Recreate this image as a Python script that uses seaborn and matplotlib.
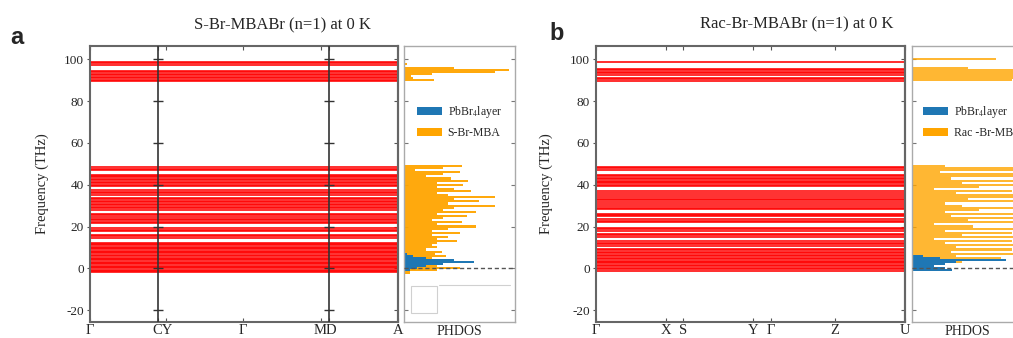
import numpy as np
import pandas as pd
import matplotlib
matplotlib.use("Agg")
import matplotlib.pyplot as plt
from matplotlib.patches import Patch, Rectangle
import seaborn as sns

# ---------------- data ----------------
# high-symmetry path (fractional path length) and labels
kpath_S = [0.0, 0.221, 0.247, 0.497, 0.750, 0.776, 1.0]
klabels_S = ["Γ", "C", "Y", "Γ", "M", "D", "A"]
kpath_R = [0.0, 0.225, 0.282, 0.508, 0.566, 0.773, 1.0]
klabels_R = ["Γ", "X", "S", "Y", "Γ", "Z", "U"]

# phonon band frequencies (THz), flat across the path
bands_S = [-2.0, -1.35, -0.7, -0.05, 0.6, 1.25, 1.9, 2.55, 3.2, 3.85, 4.5, 5.15,
           5.8, 6.45, 7.1, 7.75, 8.4, 9.05, 9.7, 10.35, 11.0, 11.65, 12.3,
           14.6, 15.3, 16.0, 17.8, 18.5, 19.2, 21.5, 22.2, 22.9, 23.5,
           24.6, 25.4, 26.1, 28.1, 28.8, 29.5, 30.2, 30.9, 31.6, 32.4, 33.1, 33.8,
           35.3, 36.0, 36.7, 37.3, 39.3, 40.0, 40.7, 41.4, 42.1, 42.8, 43.5, 44.1,
           44.7, 47.0, 47.7, 48.3,
           89.6, 90.2, 90.9, 91.6, 92.3, 93.0, 93.9, 94.5, 97.5, 98.2, 98.9]
bands_R = [-1.2, -0.5, 0.2, 0.9, 1.6, 2.3, 3.0, 3.7, 4.4, 5.1, 5.8, 6.5, 7.2,
           7.9, 8.6, 9.3, 10.6, 11.4, 12.2, 13.0, 15.2, 15.9, 16.6, 18.0, 18.7,
           19.5, 22.0, 22.7, 23.4, 24.8, 25.5, 26.1, 28.4, 29.1, 29.8, 30.8,
           31.9, 32.6, 33.3, 34.2, 35.3, 36.0, 36.8, 39.2, 39.9, 40.6, 41.3,
           42.0, 42.7, 43.4, 44.1, 44.8, 47.2, 47.9, 48.6,
           89.8, 90.5, 91.2, 92.6, 93.3, 94.0, 94.7, 95.3, 98.9]

# projected phonon DOS (arb. units) on a 1-THz frequency grid
dos_S_org_f = [-2, -1, 0, 1, 2, 3, 4, 5, 6, 7, 8, 9, 10, 11, 12, 13, 14, 15,
               16, 17, 18, 19, 20, 21, 22, 23, 24, 25, 26, 27, 28, 29, 30, 31,
               32, 33, 34, 35, 36, 37, 38, 39, 40, 41, 42, 43, 44, 45, 46, 47,
               48, 49, 90, 91, 92, 93, 94, 95, 96, 98]
dos_S_org_v = [0.05, 0.30, 0.50, 0.30, 0.25, 0.20, 0.30, 0.25, 0.38, 0.28,
               0.34, 0.20, 0.30, 0.25, 0.30, 0.48, 0.30, 0.40, 0.25, 0.50,
               0.25, 0.40, 0.65, 0.30, 0.52, 0.25, 0.35, 0.57, 0.30, 0.65,
               0.35, 0.45, 0.82, 0.40, 0.68, 0.45, 0.82, 0.40, 0.30, 0.60,
               0.45, 0.30, 0.53, 0.30, 0.58, 0.42, 0.20, 0.35, 0.50, 0.10,
               0.35, 0.52, 0.27, 0.08, 0.06, 0.25, 0.82, 0.95, 0.45, 0.03]
dos_S_pb_f = [-1, 0, 1, 2, 3, 4, 5, 6, 7]
dos_S_pb_v = [0.05, 0.12, 0.20, 0.35, 0.63, 0.45, 0.20, 0.08, 0.03]

dos_R_org_f = [-1, 0, 1, 2, 3, 4, 5, 6, 7, 8, 9, 10, 11, 12, 13, 14, 15, 16,
               17, 18, 19, 20, 21, 22, 23, 24, 25, 26, 27, 28, 29, 30, 31, 32,
               33, 34, 35, 36, 37, 38, 39, 40, 41, 42, 43, 44, 45, 46, 47, 48,
               49, 90, 91, 92, 93, 94, 95, 96, 100]
dos_R_org_v = [0.10, 0.15, 0.20, 0.25, 0.45, 0.35, 0.80, 0.40, 1.00, 0.35,
               0.90, 0.40, 1.00, 0.30, 0.90, 0.20, 1.00, 0.45, 0.90, 0.30,
               1.00, 0.55, 0.20, 1.10, 0.50, 0.95, 0.35, 1.10, 0.30, 0.60,
               1.10, 0.45, 0.30, 1.10, 0.50, 0.95, 1.20, 0.40, 0.90, 0.20,
               0.60, 1.00, 0.45, 1.10, 0.35, 0.95, 1.10, 0.25, 1.00, 1.10,
               0.30, 0.90, 1.20, 1.00, 1.20, 1.30, 1.20, 0.50, 0.76]
dos_R_pb_f = [-1, 0, 1, 2, 3, 4, 5, 6]
dos_R_pb_v = [0.36, 0.30, 0.20, 0.30, 0.40, 0.85, 0.25, 0.10]

legend_S = ["PbBr$_4$layer", "S-Br-MBA"]
legend_R = ["PbBr$_4$layer", "Rac -Br-MBA"]
titles = ["S-Br-MBABr (n=1) at 0 K", "Rac-Br-MBABr (n=1) at 0 K"]
yticks = [-20, 0, 20, 40, 60, 80, 100]

# ---------------- style ----------------
sns.set_style("white")
plt.rcParams["font.family"] = ["Liberation Serif", "DejaVu Serif"]
plt.rcParams["mathtext.fontset"] = "stix"

RED = "#ff0000"
ORANGE = "#ffa500"
BLUE = "#1f77b4"
W, H = 1013, 338
YLIM = (-25.7, 106.4)


def rect(x0, x1, y0, y1):
    return [x0 / W, 1 - y1 / H, (x1 - x0) / W, (y1 - y0) / H]


fig = plt.figure(figsize=(W / 100, H / 100), dpi=100)
axA = fig.add_axes(rect(90, 398, 46, 322))
axAd = fig.add_axes(rect(404, 515, 46, 322))
axB = fig.add_axes(rect(596, 905, 46, 322))
axBd = fig.add_axes(rect(912, 1023, 46, 322))


def band_panel(ax, bands, kpath, klabels, vlines, ylab_x):
    df = pd.DataFrame([(k, f, i) for i, f in enumerate(bands)
                       for k in (kpath[0], kpath[-1])],
                      columns=["k", "freq", "band"])
    sns.lineplot(data=df, x="k", y="freq", units="band", estimator=None,
                 sort=False, color=RED, linewidth=1.15, legend=False, ax=ax)
    ax.set_xlim(kpath[0], kpath[-1])
    ax.set_ylim(*YLIM)
    ax.set_yticks(yticks)
    ax.set_yticklabels([str(t) for t in yticks])
    ax.tick_params(axis="y", direction="out", length=2.5, width=0.8,
                   color="#555", labelsize=9.5, pad=2, left=True)
    sec = ax.secondary_yaxis("right")
    sec.set_yticks(yticks)
    sec.tick_params(direction="in", length=3, width=0.8, color="#555",
                    labelright=False)
    sec.spines["right"].set_color("#666")
    sec.spines["right"].set_linewidth(1.5)
    # major ticks at all high-symmetry points (no labels)
    ax.xaxis.remove_overlapping_locs = False
    ax.set_xticks(kpath)
    ax.set_xticklabels([])
    ax.tick_params(axis="x", which="major", direction="in", length=3,
                   width=0.8, color="#555", top=True, bottom=True)
    # labels as minor ticks, merging adjacent points
    pos, labs = [], []
    i = 0
    while i < len(kpath):
        if i + 1 < len(kpath) and kpath[i + 1] - kpath[i] < 0.04:
            pos.append((kpath[i] + kpath[i + 1]) / 2)
            labs.append(klabels[i] + klabels[i + 1])
            i += 2
        else:
            pos.append(kpath[i])
            labs.append(klabels[i])
            i += 1
    ax.set_xticks(pos, minor=True)
    ax.set_xticklabels(labs, minor=True, fontsize=10.5)
    ax.tick_params(axis="x", which="minor", length=0, pad=1.5)
    for x in vlines:
        ax.axvline(x, color="#333", lw=1.2, zorder=5)
        ax.plot([x] * len(yticks), yticks, ls="none", marker="_", ms=7,
                mew=1, color="#333", zorder=6)
    for s in ax.spines.values():
        s.set_color("#666")
        s.set_linewidth(1.5)
    ax.set_xlabel("")
    ax.set_ylabel("Frequency (THz)", fontsize=10.5)
    ax.yaxis.set_label_coords(ylab_x, 0.5)


band_panel(axA, bands_S, kpath_S, klabels_S, [kpath_S[1], kpath_S[5]], -0.133)
band_panel(axB, bands_R, kpath_R, klabels_R, [], -0.139)


def dos_panel(ax, of, ov, pf, pv, labels, leg_x, artifacts, alpha):
    d_org = pd.DataFrame({"freq": of, "dos": ov})
    d_pb = pd.DataFrame({"freq": pf, "dos": pv})
    sns.histplot(data=d_org, y="freq", weights="dos", binwidth=1,
                 binrange=(-2.5, 100.5), element="step", fill=True,
                 color=ORANGE, alpha=alpha, linewidth=0, ax=ax)
    sns.histplot(data=d_pb, y="freq", weights="dos", binwidth=1,
                 binrange=(-2.5, 100.5), element="step", fill=True,
                 color=BLUE, alpha=1.0, linewidth=0, ax=ax)
    ax.axhline(0, color="#555", lw=1.0, ls=(0, (3, 2)), zorder=4)
    ax.set_xlim(0, 1)
    ax.set_ylim(*YLIM)
    ax.set_yticks(yticks)
    ax.set_yticklabels([])
    ax.set_xticks([])
    ax.tick_params(axis="y", direction="in", length=3, width=0.8,
                   color="#777", left=True, right=True)
    ax.set_ylabel("")
    ax.set_xlabel("PHDOS", fontsize=10, labelpad=2)
    for s in ax.spines.values():
        s.set_color("#aaa")
        s.set_linewidth(1.0)
    handles = [Patch(facecolor=BLUE, edgecolor="none"),
               Patch(facecolor=ORANGE, edgecolor="none")]
    ax.legend(handles, labels, loc="upper left",
              bbox_to_anchor=(leg_x, (322 - 104) / 276), frameon=False,
              fontsize=8.5, handlelength=2.1, handleheight=0.75,
              handletextpad=0.5, labelspacing=0.6, borderpad=0,
              borderaxespad=0)
    if artifacts:
        ax.add_patch(Rectangle((0.063, 0.033), 0.234, 0.097,
                               transform=ax.transAxes, fill=False,
                               ec="#d0d0d0", lw=0.8))
        ax.plot([0.315, 0.955], [0.134, 0.134], transform=ax.transAxes,
                color="#d0d0d0", lw=0.8)


dos_panel(axAd, dos_S_org_f, dos_S_org_v, dos_S_pb_f, dos_S_pb_v, legend_S,
          0.117, True, 0.95)
dos_panel(axBd, dos_R_org_f, dos_R_org_v, dos_R_pb_f, dos_R_pb_v, legend_R,
          0.10, False, 0.8)

fig.text(283 / W, 1 - 25 / H, titles[0], ha="center", va="center", fontsize=12)
fig.text(797 / W, 1 - 24 / H, titles[1], ha="center", va="center", fontsize=12)
fig.text(10 / W, 1 - 37 / H, "a", ha="left", va="center", fontsize=17,
         fontweight="bold", family="Liberation Sans")
fig.text(549 / W, 1 - 34 / H, "b", ha="left", va="center", fontsize=17,
         fontweight="bold", family="Liberation Sans")

fig.savefig("out.png", dpi=100)
